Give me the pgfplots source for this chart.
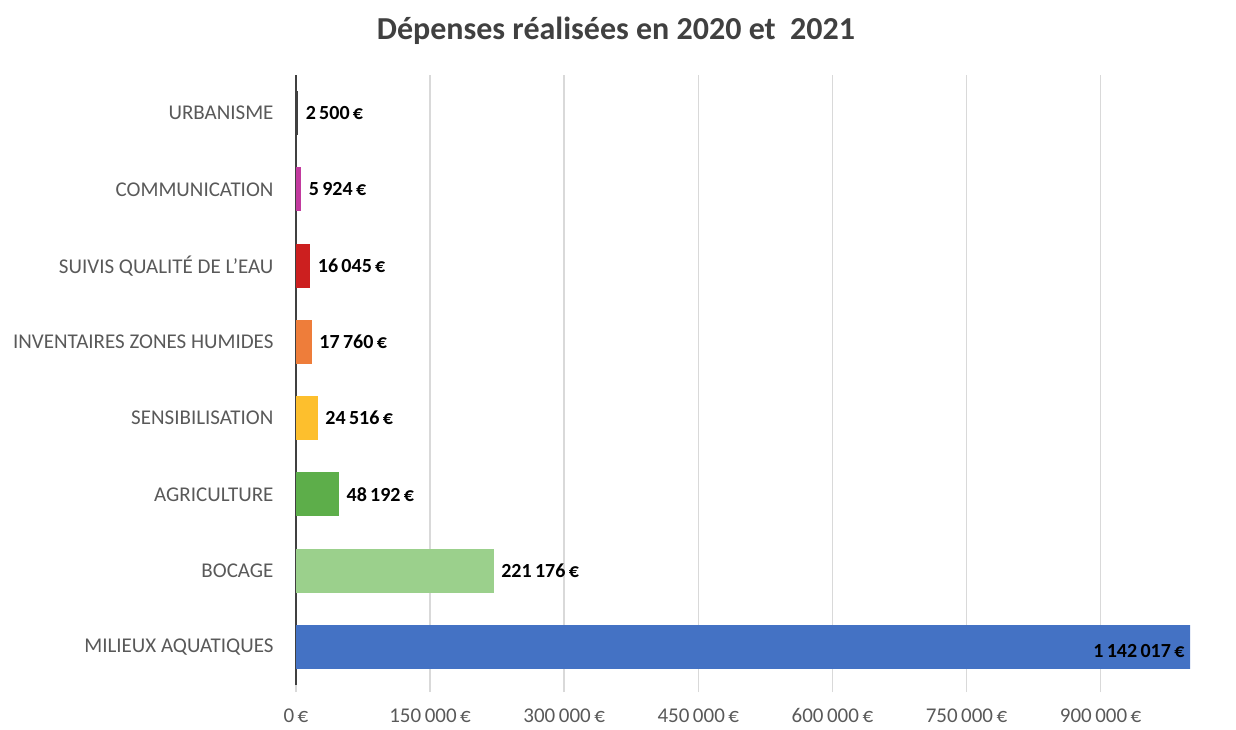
\documentclass[border=0pt]{standalone}
\usepackage{pgfplots}
\pgfplotsset{compat=1.18}
\usepackage{fontspec}
\setmainfont{Carlito}
\definecolor{txtgray}{HTML}{595959}
\definecolor{gridgray}{HTML}{D9D9D9}
\definecolor{cblue}{HTML}{4472C4}
\definecolor{clgreen}{HTML}{9BD08C}
\definecolor{cgreen}{HTML}{5DAE4A}
\definecolor{cyellow}{HTML}{FDBF2D}
\definecolor{corange}{HTML}{EE7D3A}
\definecolor{cred}{HTML}{CC1F1F}
\definecolor{cmagenta}{HTML}{C23A9E}
\definecolor{cdark}{HTML}{404040}
\begin{document}
\begin{tikzpicture}
\path[use as bounding box] (0,0) rectangle (1236pt,729pt);
\node[font=\fontsize{32}{36}\selectfont\bfseries, text=cdark] at (616pt,698pt) {Dépenses réalisées en 2020 et\ \ 2021};
\begin{axis}[
    at={(296pt,44pt)}, anchor=south west,
    scale only axis,
    width=894pt, height=610pt,
    xbar, bar shift=0pt, bar width=44pt,
    xmin=0, xmax=1000000,
    ymin=-0.5, ymax=7.5,
    axis x line*=bottom,
    axis y line*=left,
    x axis line style={draw=none},
    y axis line style={draw=cdark, line width=2pt},
    xtick={0,150000,300000,450000,600000,750000,900000},
    xticklabels={0\,€, 150\,000\,€, 300\,000\,€, 450\,000\,€, 600\,000\,€, 750\,000\,€, 900\,000\,€},
    scaled x ticks=false,
    xmajorgrids,
    major grid style={draw=gridgray, line width=1.5pt},
    tick align=outside,
    major tick length=7pt,
    xtick style={draw=gridgray, line width=1.5pt},
    ytick={0,...,7},
    yticklabels={MILIEUX AQUATIQUES, BOCAGE, AGRICULTURE, SENSIBILISATION, INVENTAIRES ZONES HUMIDES, {SUIVIS QUALITÉ DE L'EAU}, COMMUNICATION, URBANISME},
    ytick style={draw=none},
    ticklabel style={font=\fontsize{21}{24}\selectfont, text=txtgray},
    yticklabel style={xshift=-12pt},
    xticklabel style={anchor=north, text height=13pt, text depth=4pt, yshift=-14pt},
    point meta=explicit symbolic,
    nodes near coords,
    every node near coord/.style={anchor=west, font=\fontsize{20}{24}\selectfont\bfseries, text=black, xshift=4pt},
]
\addplot[fill=cblue, draw=none, nodes near coords={}] coordinates {(1142017,0)};
\addplot[fill=clgreen, draw=none] coordinates {(221176,1) [221\,176\,€]};
\addplot[fill=cgreen, draw=none] coordinates {(48192,2) [48\,192\,€]};
\addplot[fill=cyellow, draw=none] coordinates {(24516,3) [24\,516\,€]};
\addplot[fill=corange, draw=none] coordinates {(17760,4) [17\,760\,€]};
\addplot[fill=cred, draw=none] coordinates {(16045,5) [16\,045\,€]};
\addplot[fill=cmagenta, draw=none] coordinates {(5924,6) [5\,924\,€]};
\addplot[fill=cdark, draw=none] coordinates {(2500,7) [2\,500\,€]};
\node[anchor=east, font=\fontsize{20}{24}\selectfont\bfseries, text=black] at (axis cs:1000000,0) [xshift=-2pt, yshift=-4pt] {1\,142\,017\,€};
\end{axis}
\end{tikzpicture}
\end{document}
